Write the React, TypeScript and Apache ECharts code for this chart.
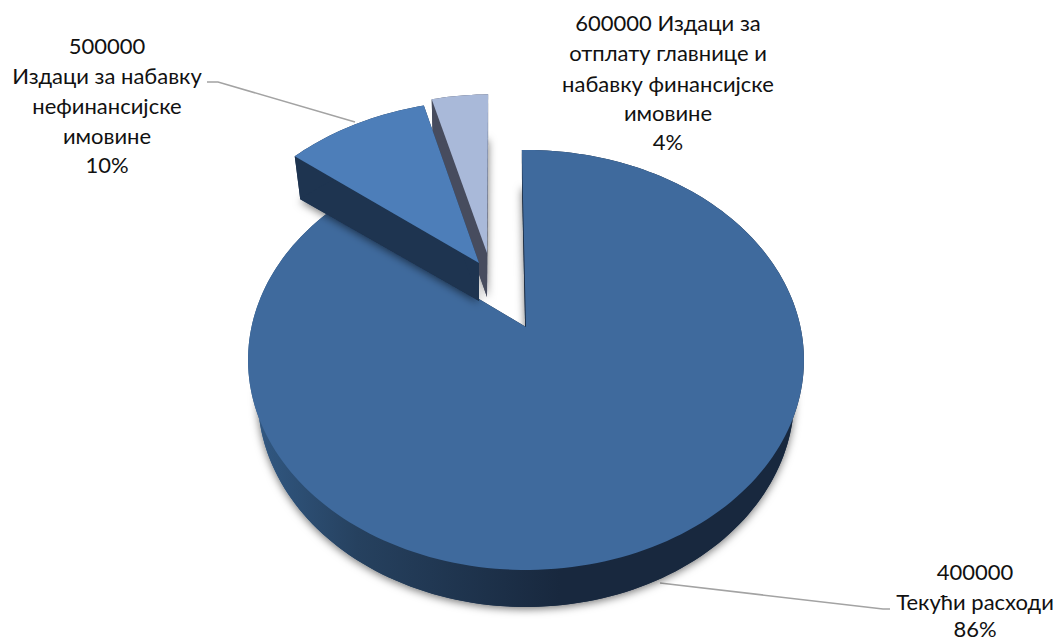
import React, { useEffect, useRef } from "react";
import * as echarts from "echarts";

// Budget categories, their shares in percent, and label lines.
const codes = ["400000", "500000", "600000"];
const shares = [86, 10, 4];
const labelLines = [
  ["400000", "Текући расходи", "86%"],
  ["500000", "Издаци за набавку", "нефинансијске", "имовине", "10%"],
  ["600000 Издаци за", "отплату главнице и", "набавку финансијске", "имовине", "4%"],
];

const FONT = "Lato, 'Noto Sans', sans-serif";

// Perspective of the disc: unit-disc coordinates to screen pixels.
const view = { ax: 526, ay: 327, A: 274.5, B: 204.8, k: 0.157 };
const START_DEG = -1;

const sliceLook = [
  {
    top: "#3f6a9d",
    wall: {
      type: "linear", x: 248, y: 0, x2: 560, y2: 0, global: true,
      colorStops: [
        { offset: 0, color: "#325a85" },
        { offset: 0.35, color: "#26415f" },
        { offset: 1, color: "#18283e" },
      ],
    },
    ou: 0, ov: 0, radius: 1, depth: 37, rise: 0, inset: 0.965, z: 1,
  },
  { top: "#4d7eb9", wall: "#1e3450", ou: -0.18, ov: -0.3286, radius: 1.01, depth: 38, rise: 0.045, inset: 0.97, z: 20 },
  { top: "#a9b9d9", wall: "#474c5e", ou: -0.1506, ov: -0.383, radius: 1, depth: 44, rise: 0, inset: 0.98, z: 10 },
];

const leaders = [
  [[660, 583], [883, 609], [890, 609]],
  [[207, 82], [218, 82], [355, 122]],
];

const labelPlaces = [
  { x: 975, ys: [571, 601, 628] },
  { x: 107, ys: [45, 75, 105, 135, 164] },
  { x: 668, ys: [22, 52, 83, 112, 141] },
];

function project(u: number, v: number) {
  const w = 1 - view.k * v;
  return [view.ax + (view.A * u) / w, view.ay + (view.B * v) / w];
}

function renderSlice(params: any, api: any) {
  const i = params.dataIndex;
  const total = shares.reduce((a, b) => a + b, 0);
  const before = shares.slice(0, i).reduce((a, b) => a + b, 0);
  const value = api.value(0);
  const t0 = ((START_DEG + (before / total) * 360) * Math.PI) / 180;
  const t1 = t0 + (value / total) * 2 * Math.PI;
  const look = sliceLook[i];

  const apex = project(look.ou, look.ov);
  const down = (p: number[]) => [
    apex[0] + (p[0] - apex[0]) * look.inset,
    p[1] + look.depth + (apex[1] - p[1]) * look.rise,
  ];

  const steps = Math.max(8, Math.round((value / total) * 240));
  const arc: number[][] = [];
  for (let s = 0; s <= steps; s++) {
    const t = t0 + ((t1 - t0) * s) / steps;
    arc.push(project(look.ou + look.radius * Math.sin(t), look.ov - look.radius * Math.cos(t)));
  }
  const arcLow = arc.map(down);
  const apexLow = down(apex);
  const first = arc[0];
  const last = arc[arc.length - 1];

  const poly = (points: number[][], fill: any, z2: number, extra: any = {}) => ({
    type: "polygon",
    z2,
    shape: { points },
    style: { fill, stroke: null, ...extra },
    silent: true,
  });

  return {
    type: "group",
    children: [
      poly([apexLow, ...arcLow], look.wall, look.z, {
        shadowColor: "rgba(0,0,0,0.55)",
        shadowBlur: 9,
        shadowOffsetX: 0,
        shadowOffsetY: 2,
      }),
      poly([apex, first, arcLow[0], apexLow], look.wall, look.z + 1),
      poly([apex, last, arcLow[arcLow.length - 1], apexLow], look.wall, look.z + 1),
      poly([...arc, ...arcLow.slice().reverse()], look.wall, look.z + 2),
      poly([apex, ...arc], look.top, look.z + 3),
    ],
  };
}

export default function App() {
  const ref = useRef<HTMLDivElement>(null);
  useEffect(() => {
    document.body.style.margin = "0";
    document.body.style.background = "#ffffff";
    const chart = echarts.init(ref.current!, null, { renderer: "svg" });
    const graphic: any[] = [];
    leaders.forEach((points) =>
      graphic.push({
        type: "polyline",
        z: 1,
        shape: { points },
        style: { stroke: "#a3a3a3", lineWidth: 1.5, fill: null },
      })
    );
    labelLines.forEach((lines, i) =>
      lines.forEach((text, j) =>
        graphic.push({
          type: "text",
          z: 5,
          x: labelPlaces[i].x,
          y: labelPlaces[i].ys[j],
          style: {
            text,
            fontFamily: FONT,
            fontSize: 22,
            lineHeight: 22,
            fill: "#111111",
            align: "center",
            verticalAlign: "middle",
          },
        })
      )
    );
    chart.setOption({
      animation: false,
      backgroundColor: "#ffffff",
      graphic,
      series: [
        {
          type: "custom",
          name: "Расходи",
          coordinateSystem: "none",
          renderItem: renderSlice,
          data: shares.map((v, i) => ({ name: codes[i], value: [v] })),
          z: 2,
        },
      ],
    });
    return () => chart.dispose();
  }, []);
  return <div ref={ref} style={{ width: 1056, height: 640 }} />;
}
